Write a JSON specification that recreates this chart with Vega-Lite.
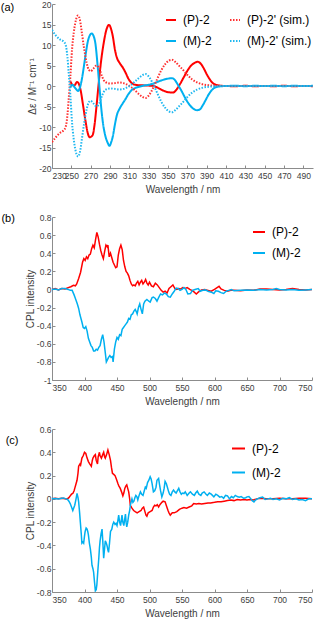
{
"$schema": "https://vega.github.io/schema/vega-lite/v6.json",
"background": "white",
"padding": {"left": 0, "top": 0, "right": 4, "bottom": 0},
"spacing": 18,
"resolve": {"scale": {"color": "independent", "strokeDash": "independent", "strokeWidth": "independent"}, "legend": {"color": "independent", "strokeDash": "independent", "strokeWidth": "independent"}},
"config": {
  "view": {"stroke": null},
  "font": "Liberation Sans",
  "axis": {"grid": false, "labelFont": "Liberation Sans", "labelFontSize": 8.5, "labelColor": "#404040", "labelOverlap": false, "titleFont": "Liberation Sans", "titleFontSize": 10, "titleFontWeight": "normal", "titleColor": "#404040", "domainColor": "#8c8c8c", "tickColor": "#8c8c8c", "tickSize": -3, "labelPadding": 4},
  "axisX": {"titlePadding": 5, "labelPadding": 6},
  "axisY": {"titlePadding": 1},
  "legend": {"labelFont": "Liberation Sans", "labelFontSize": 12, "labelColor": "#000000", "padding": 0, "labelOffset": 6, "symbolType": "stroke"},
  "title": {"font": "Liberation Sans", "fontSize": 11, "fontWeight": "normal", "color": "#000000", "frame": "group"}
},
"datasets": {
  "cd": [
    {"series":"(P)-2","wl":249,"val":1.2},{"series":"(P)-2","wl":251,"val":0.3},{"series":"(P)-2","wl":253,"val":0.1},{"series":"(P)-2","wl":256,"val":1.0},{"series":"(P)-2","wl":258,"val":0.4},{"series":"(P)-2","wl":260,"val":-1.5},{"series":"(P)-2","wl":262,"val":-4.5},{"series":"(P)-2","wl":264.5,"val":-8.3},{"series":"(P)-2","wl":267,"val":-11.5},{"series":"(P)-2","wl":269,"val":-12.5},{"series":"(P)-2","wl":272,"val":-12},{"series":"(P)-2","wl":274,"val":-9.5},{"series":"(P)-2","wl":276,"val":-5},{"series":"(P)-2","wl":279,"val":2.3},{"series":"(P)-2","wl":281,"val":6.5},{"series":"(P)-2","wl":283.5,"val":10.5},{"series":"(P)-2","wl":286,"val":13.5},{"series":"(P)-2","wl":289,"val":14.9},{"series":"(P)-2","wl":291,"val":14},{"series":"(P)-2","wl":293,"val":12},{"series":"(P)-2","wl":295,"val":9},{"series":"(P)-2","wl":297,"val":7},{"series":"(P)-2","wl":300,"val":5.6},{"series":"(P)-2","wl":303,"val":4.6},{"series":"(P)-2","wl":306,"val":3.3},{"series":"(P)-2","wl":309,"val":1.8},{"series":"(P)-2","wl":312,"val":0.8},{"series":"(P)-2","wl":316,"val":0.3},{"series":"(P)-2","wl":320,"val":0.2},{"series":"(P)-2","wl":325,"val":0.15},{"series":"(P)-2","wl":330,"val":0.1},{"series":"(P)-2","wl":335,"val":0},{"series":"(P)-2","wl":340,"val":-0.5},{"series":"(P)-2","wl":345,"val":-1.1},{"series":"(P)-2","wl":350,"val":-1.5},{"series":"(P)-2","wl":355,"val":-1.6},{"series":"(P)-2","wl":358,"val":-1.1},{"series":"(P)-2","wl":362,"val":0.3},{"series":"(P)-2","wl":366,"val":2.0},{"series":"(P)-2","wl":370,"val":3.7},{"series":"(P)-2","wl":374,"val":5.0},{"series":"(P)-2","wl":378,"val":5.7},{"series":"(P)-2","wl":381,"val":5.9},{"series":"(P)-2","wl":384,"val":5.4},{"series":"(P)-2","wl":387,"val":4.3},{"series":"(P)-2","wl":390,"val":2.9},{"series":"(P)-2","wl":393,"val":1.7},{"series":"(P)-2","wl":396,"val":0.8},{"series":"(P)-2","wl":399,"val":0.35},{"series":"(P)-2","wl":402,"val":0.15},{"series":"(P)-2","wl":406,"val":0.05},{"series":"(P)-2","wl":410,"val":0},{"series":"(P)-2","wl":420,"val":-0.05},{"series":"(P)-2","wl":430,"val":0.05},{"series":"(P)-2","wl":440,"val":-0.05},{"series":"(P)-2","wl":450,"val":0},{"series":"(P)-2","wl":460,"val":-0.05},{"series":"(P)-2","wl":470,"val":0.05},{"series":"(P)-2","wl":480,"val":-0.05},{"series":"(P)-2","wl":490,"val":0},{"series":"(P)-2","wl":500,"val":-0.05},
    {"series":"(M)-2","wl":249,"val":-0.4},{"series":"(M)-2","wl":251,"val":0.3},{"series":"(M)-2","wl":254,"val":-0.5},{"series":"(M)-2","wl":257,"val":-1.2},{"series":"(M)-2","wl":259,"val":-0.3},{"series":"(M)-2","wl":261,"val":1.8},{"series":"(M)-2","wl":263,"val":4.8},{"series":"(M)-2","wl":265,"val":8},{"series":"(M)-2","wl":267,"val":10.8},{"series":"(M)-2","wl":269,"val":12.3},{"series":"(M)-2","wl":271,"val":12.8},{"series":"(M)-2","wl":273,"val":12.2},{"series":"(M)-2","wl":275,"val":10.2},{"series":"(M)-2","wl":277,"val":5.5},{"series":"(M)-2","wl":279,"val":0},{"series":"(M)-2","wl":281,"val":-5.5},{"series":"(M)-2","wl":283,"val":-9.5},{"series":"(M)-2","wl":285,"val":-12},{"series":"(M)-2","wl":287.5,"val":-13.8},{"series":"(M)-2","wl":289.5,"val":-14.6},{"series":"(M)-2","wl":291.5,"val":-13.5},{"series":"(M)-2","wl":293,"val":-12.2},{"series":"(M)-2","wl":295,"val":-9.5},{"series":"(M)-2","wl":297,"val":-7.2},{"series":"(M)-2","wl":300,"val":-5.5},{"series":"(M)-2","wl":303,"val":-4.3},{"series":"(M)-2","wl":306,"val":-3.2},{"series":"(M)-2","wl":309,"val":-2.0},{"series":"(M)-2","wl":312,"val":-1.1},{"series":"(M)-2","wl":316,"val":-0.5},{"series":"(M)-2","wl":320,"val":-0.2},{"series":"(M)-2","wl":325,"val":0.1},{"series":"(M)-2","wl":330,"val":0.3},{"series":"(M)-2","wl":335,"val":0.6},{"series":"(M)-2","wl":340,"val":1.1},{"series":"(M)-2","wl":345,"val":1.5},{"series":"(M)-2","wl":350,"val":1.8},{"series":"(M)-2","wl":354,"val":1.9},{"series":"(M)-2","wl":357,"val":1.5},{"series":"(M)-2","wl":360,"val":0.4},{"series":"(M)-2","wl":364,"val":-1.2},{"series":"(M)-2","wl":368,"val":-3.0},{"series":"(M)-2","wl":372,"val":-4.5},{"series":"(M)-2","wl":376,"val":-5.5},{"series":"(M)-2","wl":380,"val":-5.9},{"series":"(M)-2","wl":383,"val":-5.7},{"series":"(M)-2","wl":386,"val":-4.7},{"series":"(M)-2","wl":389,"val":-3.4},{"series":"(M)-2","wl":392,"val":-2.1},{"series":"(M)-2","wl":395,"val":-1.1},{"series":"(M)-2","wl":398,"val":-0.45},{"series":"(M)-2","wl":402,"val":-0.15},{"series":"(M)-2","wl":406,"val":-0.05},{"series":"(M)-2","wl":410,"val":0},{"series":"(M)-2","wl":420,"val":0.05},{"series":"(M)-2","wl":430,"val":-0.05},{"series":"(M)-2","wl":440,"val":0.05},{"series":"(M)-2","wl":450,"val":0},{"series":"(M)-2","wl":460,"val":0.05},{"series":"(M)-2","wl":470,"val":-0.05},{"series":"(M)-2","wl":480,"val":0.05},{"series":"(M)-2","wl":490,"val":0},{"series":"(M)-2","wl":500,"val":0.05},
    {"series":"(P)-2' (sim.)","wl":230,"val":-13.7},{"series":"(P)-2' (sim.)","wl":234,"val":-12.5},{"series":"(P)-2' (sim.)","wl":238,"val":-11.5},{"series":"(P)-2' (sim.)","wl":242,"val":-10.8},{"series":"(P)-2' (sim.)","wl":244,"val":-10.1},{"series":"(P)-2' (sim.)","wl":246,"val":-7},{"series":"(P)-2' (sim.)","wl":247.2,"val":-3.4},{"series":"(P)-2' (sim.)","wl":249,"val":2.3},{"series":"(P)-2' (sim.)","wl":250.7,"val":8.8},{"series":"(P)-2' (sim.)","wl":252.5,"val":13},{"series":"(P)-2' (sim.)","wl":254,"val":15.3},{"series":"(P)-2' (sim.)","wl":257,"val":17.2},{"series":"(P)-2' (sim.)","wl":259,"val":16},{"series":"(P)-2' (sim.)","wl":261,"val":12.8},{"series":"(P)-2' (sim.)","wl":263,"val":9.5},{"series":"(P)-2' (sim.)","wl":266,"val":5.5},{"series":"(P)-2' (sim.)","wl":268,"val":4},{"series":"(P)-2' (sim.)","wl":270,"val":3.6},{"series":"(P)-2' (sim.)","wl":273,"val":4.3},{"series":"(P)-2' (sim.)","wl":276,"val":5},{"series":"(P)-2' (sim.)","wl":279,"val":4.2},{"series":"(P)-2' (sim.)","wl":282,"val":2.2},{"series":"(P)-2' (sim.)","wl":285,"val":1},{"series":"(P)-2' (sim.)","wl":290,"val":0.6},{"series":"(P)-2' (sim.)","wl":295,"val":0.7},{"series":"(P)-2' (sim.)","wl":300,"val":0.85},{"series":"(P)-2' (sim.)","wl":304,"val":0.7},{"series":"(P)-2' (sim.)","wl":308,"val":0.3},{"series":"(P)-2' (sim.)","wl":312,"val":-0.3},{"series":"(P)-2' (sim.)","wl":316,"val":-1.1},{"series":"(P)-2' (sim.)","wl":320,"val":-2.0},{"series":"(P)-2' (sim.)","wl":324,"val":-2.7},{"series":"(P)-2' (sim.)","wl":327,"val":-2.9},{"series":"(P)-2' (sim.)","wl":331,"val":-2.0},{"series":"(P)-2' (sim.)","wl":335,"val":-0.3},{"series":"(P)-2' (sim.)","wl":339,"val":1.8},{"series":"(P)-2' (sim.)","wl":343,"val":3.8},{"series":"(P)-2' (sim.)","wl":347,"val":5.3},{"series":"(P)-2' (sim.)","wl":351,"val":6.2},{"series":"(P)-2' (sim.)","wl":354,"val":6.4},{"series":"(P)-2' (sim.)","wl":358,"val":5.8},{"series":"(P)-2' (sim.)","wl":362,"val":4.8},{"series":"(P)-2' (sim.)","wl":366,"val":3.8},{"series":"(P)-2' (sim.)","wl":370,"val":2.7},{"series":"(P)-2' (sim.)","wl":375,"val":1.6},{"series":"(P)-2' (sim.)","wl":380,"val":0.9},{"series":"(P)-2' (sim.)","wl":386,"val":0.4},{"series":"(P)-2' (sim.)","wl":392,"val":0.2},{"series":"(P)-2' (sim.)","wl":400,"val":0.05},{"series":"(P)-2' (sim.)","wl":410,"val":0},{"series":"(P)-2' (sim.)","wl":500,"val":0},
    {"series":"(M)-2' (sim.)","wl":230,"val":13.7},{"series":"(M)-2' (sim.)","wl":234,"val":12.3},{"series":"(M)-2' (sim.)","wl":238,"val":11.4},{"series":"(M)-2' (sim.)","wl":242,"val":10.8},{"series":"(M)-2' (sim.)","wl":244,"val":10.1},{"series":"(M)-2' (sim.)","wl":246,"val":7},{"series":"(M)-2' (sim.)","wl":247.2,"val":3.4},{"series":"(M)-2' (sim.)","wl":249,"val":-2.3},{"series":"(M)-2' (sim.)","wl":250.7,"val":-8.8},{"series":"(M)-2' (sim.)","wl":252.5,"val":-13},{"series":"(M)-2' (sim.)","wl":254,"val":-15.3},{"series":"(M)-2' (sim.)","wl":257,"val":-17.2},{"series":"(M)-2' (sim.)","wl":259,"val":-16},{"series":"(M)-2' (sim.)","wl":261,"val":-12.8},{"series":"(M)-2' (sim.)","wl":263,"val":-9.5},{"series":"(M)-2' (sim.)","wl":266,"val":-5.5},{"series":"(M)-2' (sim.)","wl":268,"val":-4},{"series":"(M)-2' (sim.)","wl":270,"val":-3.6},{"series":"(M)-2' (sim.)","wl":273,"val":-4.3},{"series":"(M)-2' (sim.)","wl":276,"val":-5},{"series":"(M)-2' (sim.)","wl":279,"val":-4.2},{"series":"(M)-2' (sim.)","wl":282,"val":-2.2},{"series":"(M)-2' (sim.)","wl":285,"val":-1},{"series":"(M)-2' (sim.)","wl":290,"val":-0.6},{"series":"(M)-2' (sim.)","wl":295,"val":-0.7},{"series":"(M)-2' (sim.)","wl":300,"val":-0.85},{"series":"(M)-2' (sim.)","wl":304,"val":-0.7},{"series":"(M)-2' (sim.)","wl":308,"val":-0.3},{"series":"(M)-2' (sim.)","wl":312,"val":0.3},{"series":"(M)-2' (sim.)","wl":316,"val":1.1},{"series":"(M)-2' (sim.)","wl":320,"val":2.0},{"series":"(M)-2' (sim.)","wl":324,"val":2.7},{"series":"(M)-2' (sim.)","wl":327,"val":2.9},{"series":"(M)-2' (sim.)","wl":331,"val":2.0},{"series":"(M)-2' (sim.)","wl":335,"val":0.3},{"series":"(M)-2' (sim.)","wl":339,"val":-1.8},{"series":"(M)-2' (sim.)","wl":343,"val":-3.8},{"series":"(M)-2' (sim.)","wl":347,"val":-5.3},{"series":"(M)-2' (sim.)","wl":351,"val":-6.2},{"series":"(M)-2' (sim.)","wl":354,"val":-6.4},{"series":"(M)-2' (sim.)","wl":358,"val":-5.8},{"series":"(M)-2' (sim.)","wl":362,"val":-4.8},{"series":"(M)-2' (sim.)","wl":366,"val":-3.8},{"series":"(M)-2' (sim.)","wl":370,"val":-2.7},{"series":"(M)-2' (sim.)","wl":375,"val":-1.6},{"series":"(M)-2' (sim.)","wl":380,"val":-0.9},{"series":"(M)-2' (sim.)","wl":386,"val":-0.4},{"series":"(M)-2' (sim.)","wl":392,"val":-0.2},{"series":"(M)-2' (sim.)","wl":400,"val":-0.05},{"series":"(M)-2' (sim.)","wl":410,"val":0},{"series":"(M)-2' (sim.)","wl":500,"val":0}
  ],
  "cplb": [
    {"series":"(P)-2","wl":350,"val":0},{"series":"(P)-2","wl":355,"val":0.01},{"series":"(P)-2","wl":360,"val":-0.005},{"series":"(P)-2","wl":365,"val":0.01},{"series":"(P)-2","wl":370,"val":0.005},{"series":"(P)-2","wl":375,"val":0.02},{"series":"(P)-2","wl":379,"val":0.03},{"series":"(P)-2","wl":383,"val":0.045},{"series":"(P)-2","wl":386,"val":0.04},{"series":"(P)-2","wl":388,"val":0.06},{"series":"(P)-2","wl":391,"val":0.12},{"series":"(P)-2","wl":394,"val":0.19},{"series":"(P)-2","wl":397,"val":0.3},{"series":"(P)-2","wl":399,"val":0.34},{"series":"(P)-2","wl":401,"val":0.32},{"series":"(P)-2","wl":403,"val":0.36},{"series":"(P)-2","wl":405,"val":0.34},{"series":"(P)-2","wl":407,"val":0.38},{"series":"(P)-2","wl":409,"val":0.39},{"series":"(P)-2","wl":411,"val":0.45},{"series":"(P)-2","wl":413,"val":0.49},{"series":"(P)-2","wl":415,"val":0.46},{"series":"(P)-2","wl":417,"val":0.55},{"series":"(P)-2","wl":419,"val":0.63},{"series":"(P)-2","wl":421,"val":0.58},{"series":"(P)-2","wl":423,"val":0.5},{"series":"(P)-2","wl":425,"val":0.43},{"series":"(P)-2","wl":427,"val":0.38},{"series":"(P)-2","wl":429,"val":0.34},{"series":"(P)-2","wl":431,"val":0.42},{"series":"(P)-2","wl":433,"val":0.49},{"series":"(P)-2","wl":435,"val":0.47},{"series":"(P)-2","wl":436,"val":0.49},{"series":"(P)-2","wl":438,"val":0.36},{"series":"(P)-2","wl":440,"val":0.4},{"series":"(P)-2","wl":442,"val":0.35},{"series":"(P)-2","wl":444,"val":0.3},{"series":"(P)-2","wl":446,"val":0.27},{"series":"(P)-2","wl":448,"val":0.24},{"series":"(P)-2","wl":450,"val":0.25},{"series":"(P)-2","wl":452,"val":0.38},{"series":"(P)-2","wl":454,"val":0.45},{"series":"(P)-2","wl":456,"val":0.49},{"series":"(P)-2","wl":458,"val":0.44},{"series":"(P)-2","wl":460,"val":0.32},{"series":"(P)-2","wl":462,"val":0.25},{"series":"(P)-2","wl":464,"val":0.2},{"series":"(P)-2","wl":466,"val":0.18},{"series":"(P)-2","wl":468,"val":0.15},{"series":"(P)-2","wl":470,"val":0.1},{"series":"(P)-2","wl":472,"val":0.06},{"series":"(P)-2","wl":474,"val":0.04},{"series":"(P)-2","wl":476,"val":0.05},{"series":"(P)-2","wl":478,"val":0.04},{"series":"(P)-2","wl":480,"val":0.07},{"series":"(P)-2","wl":482,"val":0.09},{"series":"(P)-2","wl":484,"val":0.05},{"series":"(P)-2","wl":486,"val":0.08},{"series":"(P)-2","wl":488,"val":0.1},{"series":"(P)-2","wl":490,"val":0.06},{"series":"(P)-2","wl":492,"val":0.08},{"series":"(P)-2","wl":494,"val":0.11},{"series":"(P)-2","wl":496,"val":0.07},{"series":"(P)-2","wl":498,"val":0.05},{"series":"(P)-2","wl":500,"val":0.08},{"series":"(P)-2","wl":503,"val":0.04},{"series":"(P)-2","wl":506,"val":0.03},{"series":"(P)-2","wl":509,"val":0.07},{"series":"(P)-2","wl":512,"val":0.05},{"series":"(P)-2","wl":515,"val":0.02},{"series":"(P)-2","wl":518,"val":-0.01},{"series":"(P)-2","wl":521,"val":-0.03},{"series":"(P)-2","wl":524,"val":-0.02},{"series":"(P)-2","wl":527,"val":-0.04},{"series":"(P)-2","wl":530,"val":0.01},{"series":"(P)-2","wl":533,"val":0.03},{"series":"(P)-2","wl":536,"val":0.05},{"series":"(P)-2","wl":539,"val":0.01},{"series":"(P)-2","wl":542,"val":0.0},{"series":"(P)-2","wl":545,"val":0.01},{"series":"(P)-2","wl":548,"val":0.005},{"series":"(P)-2","wl":551,"val":0.02},{"series":"(P)-2","wl":555,"val":0.01},{"series":"(P)-2","wl":558,"val":0.02},{"series":"(P)-2","wl":562,"val":0.0},{"series":"(P)-2","wl":565,"val":-0.01},{"series":"(P)-2","wl":568,"val":-0.025},{"series":"(P)-2","wl":572,"val":-0.05},{"series":"(P)-2","wl":575,"val":-0.03},{"series":"(P)-2","wl":580,"val":-0.005},{"series":"(P)-2","wl":585,"val":0.0},{"series":"(P)-2","wl":590,"val":-0.01},{"series":"(P)-2","wl":595,"val":-0.02},{"series":"(P)-2","wl":600,"val":0.0},{"series":"(P)-2","wl":604,"val":0.02},{"series":"(P)-2","wl":607,"val":0.035},{"series":"(P)-2","wl":610,"val":0.005},{"series":"(P)-2","wl":615,"val":-0.01},{"series":"(P)-2","wl":620,"val":-0.02},{"series":"(P)-2","wl":625,"val":-0.01},{"series":"(P)-2","wl":630,"val":-0.01},{"series":"(P)-2","wl":640,"val":-0.015},{"series":"(P)-2","wl":650,"val":-0.005},{"series":"(P)-2","wl":660,"val":-0.01},{"series":"(P)-2","wl":670,"val":0.005},{"series":"(P)-2","wl":680,"val":0.005},{"series":"(P)-2","wl":690,"val":0.0},{"series":"(P)-2","wl":700,"val":-0.005},{"series":"(P)-2","wl":710,"val":0.0},{"series":"(P)-2","wl":720,"val":0.01},{"series":"(P)-2","wl":730,"val":0.0},{"series":"(P)-2","wl":740,"val":-0.005},{"series":"(P)-2","wl":750,"val":0.0},
    {"series":"(M)-2","wl":350,"val":0},{"series":"(M)-2","wl":355,"val":0.005},{"series":"(M)-2","wl":360,"val":-0.005},{"series":"(M)-2","wl":365,"val":0.01},{"series":"(M)-2","wl":370,"val":0.01},{"series":"(M)-2","wl":375,"val":0.0},{"series":"(M)-2","wl":378,"val":-0.01},{"series":"(M)-2","wl":381,"val":-0.01},{"series":"(M)-2","wl":384,"val":-0.06},{"series":"(M)-2","wl":386,"val":-0.1},{"series":"(M)-2","wl":389,"val":-0.16},{"series":"(M)-2","wl":391,"val":-0.21},{"series":"(M)-2","wl":393,"val":-0.28},{"series":"(M)-2","wl":396,"val":-0.36},{"series":"(M)-2","wl":398,"val":-0.42},{"series":"(M)-2","wl":400,"val":-0.43},{"series":"(M)-2","wl":402,"val":-0.41},{"series":"(M)-2","wl":404,"val":-0.46},{"series":"(M)-2","wl":406,"val":-0.54},{"series":"(M)-2","wl":408,"val":-0.58},{"series":"(M)-2","wl":410,"val":-0.62},{"series":"(M)-2","wl":412,"val":-0.64},{"series":"(M)-2","wl":414,"val":-0.68},{"series":"(M)-2","wl":416,"val":-0.68},{"series":"(M)-2","wl":418,"val":-0.66},{"series":"(M)-2","wl":420,"val":-0.67},{"series":"(M)-2","wl":422,"val":-0.64},{"series":"(M)-2","wl":424,"val":-0.62},{"series":"(M)-2","wl":426,"val":-0.55},{"series":"(M)-2","wl":428,"val":-0.5},{"series":"(M)-2","wl":430,"val":-0.58},{"series":"(M)-2","wl":432,"val":-0.7},{"series":"(M)-2","wl":433.6,"val":-0.8},{"series":"(M)-2","wl":435,"val":-0.78},{"series":"(M)-2","wl":437,"val":-0.75},{"series":"(M)-2","wl":439,"val":-0.73},{"series":"(M)-2","wl":441,"val":-0.75},{"series":"(M)-2","wl":443,"val":-0.74},{"series":"(M)-2","wl":444,"val":-0.8},{"series":"(M)-2","wl":446,"val":-0.66},{"series":"(M)-2","wl":448,"val":-0.58},{"series":"(M)-2","wl":450,"val":-0.53},{"series":"(M)-2","wl":452,"val":-0.55},{"series":"(M)-2","wl":454,"val":-0.5},{"series":"(M)-2","wl":456,"val":-0.51},{"series":"(M)-2","wl":458,"val":-0.44},{"series":"(M)-2","wl":460,"val":-0.42},{"series":"(M)-2","wl":462,"val":-0.4},{"series":"(M)-2","wl":464,"val":-0.38},{"series":"(M)-2","wl":466,"val":-0.36},{"series":"(M)-2","wl":468,"val":-0.32},{"series":"(M)-2","wl":470,"val":-0.33},{"series":"(M)-2","wl":472,"val":-0.28},{"series":"(M)-2","wl":474,"val":-0.27},{"series":"(M)-2","wl":476,"val":-0.24},{"series":"(M)-2","wl":478,"val":-0.22},{"series":"(M)-2","wl":480,"val":-0.25},{"series":"(M)-2","wl":481,"val":-0.27},{"series":"(M)-2","wl":483,"val":-0.2},{"series":"(M)-2","wl":485,"val":-0.16},{"series":"(M)-2","wl":487,"val":-0.22},{"series":"(M)-2","wl":489,"val":-0.27},{"series":"(M)-2","wl":491,"val":-0.16},{"series":"(M)-2","wl":493,"val":-0.13},{"series":"(M)-2","wl":496,"val":-0.11},{"series":"(M)-2","wl":499,"val":-0.13},{"series":"(M)-2","wl":501,"val":-0.14},{"series":"(M)-2","wl":504,"val":-0.09},{"series":"(M)-2","wl":506,"val":-0.085},{"series":"(M)-2","wl":509,"val":-0.1},{"series":"(M)-2","wl":511.5,"val":-0.13},{"series":"(M)-2","wl":514,"val":-0.09},{"series":"(M)-2","wl":517,"val":-0.05},{"series":"(M)-2","wl":520,"val":-0.06},{"series":"(M)-2","wl":523,"val":-0.04},{"series":"(M)-2","wl":526,"val":-0.05},{"series":"(M)-2","wl":529,"val":-0.08},{"series":"(M)-2","wl":532,"val":-0.085},{"series":"(M)-2","wl":535,"val":-0.05},{"series":"(M)-2","wl":538,"val":-0.02},{"series":"(M)-2","wl":541,"val":0.015},{"series":"(M)-2","wl":544,"val":0.01},{"series":"(M)-2","wl":547,"val":-0.01},{"series":"(M)-2","wl":550,"val":0.0},{"series":"(M)-2","wl":553,"val":0.02},{"series":"(M)-2","wl":556,"val":0.0},{"series":"(M)-2","wl":559,"val":-0.05},{"series":"(M)-2","wl":563,"val":-0.045},{"series":"(M)-2","wl":566,"val":-0.01},{"series":"(M)-2","wl":570,"val":0.0},{"series":"(M)-2","wl":575,"val":0.01},{"series":"(M)-2","wl":578,"val":-0.02},{"series":"(M)-2","wl":582,"val":-0.01},{"series":"(M)-2","wl":586,"val":-0.005},{"series":"(M)-2","wl":590,"val":-0.02},{"series":"(M)-2","wl":595,"val":-0.03},{"series":"(M)-2","wl":599,"val":-0.045},{"series":"(M)-2","wl":602,"val":-0.015},{"series":"(M)-2","wl":606,"val":-0.02},{"series":"(M)-2","wl":610,"val":-0.035},{"series":"(M)-2","wl":614,"val":-0.045},{"series":"(M)-2","wl":618,"val":-0.02},{"series":"(M)-2","wl":622,"val":-0.01},{"series":"(M)-2","wl":626,"val":0.0},{"series":"(M)-2","wl":630,"val":-0.015},{"series":"(M)-2","wl":640,"val":-0.01},{"series":"(M)-2","wl":650,"val":-0.005},{"series":"(M)-2","wl":660,"val":-0.01},{"series":"(M)-2","wl":670,"val":0.0},{"series":"(M)-2","wl":680,"val":-0.005},{"series":"(M)-2","wl":690,"val":0.0},{"series":"(M)-2","wl":695,"val":0.01},{"series":"(M)-2","wl":700,"val":0.0},{"series":"(M)-2","wl":710,"val":-0.005},{"series":"(M)-2","wl":720,"val":0.0},{"series":"(M)-2","wl":730,"val":-0.01},{"series":"(M)-2","wl":740,"val":-0.005},{"series":"(M)-2","wl":750,"val":0.0}
  ],
  "cplc": [
    {"series":"(P)-2","wl":350,"val":0},{"series":"(P)-2","wl":355,"val":0.005},{"series":"(P)-2","wl":360,"val":0.0},{"series":"(P)-2","wl":365,"val":0.005},{"series":"(P)-2","wl":370,"val":0.0},{"series":"(P)-2","wl":373,"val":-0.003},{"series":"(P)-2","wl":376,"val":0.01},{"series":"(P)-2","wl":378,"val":0.026},{"series":"(P)-2","wl":380,"val":0.04},{"series":"(P)-2","wl":382,"val":0.046},{"series":"(P)-2","wl":384,"val":0.07},{"series":"(P)-2","wl":385,"val":0.09},{"series":"(P)-2","wl":387,"val":0.13},{"series":"(P)-2","wl":388.5,"val":0.16},{"series":"(P)-2","wl":390,"val":0.22},{"series":"(P)-2","wl":391,"val":0.28},{"series":"(P)-2","wl":393,"val":0.3},{"series":"(P)-2","wl":394,"val":0.29},{"series":"(P)-2","wl":396,"val":0.35},{"series":"(P)-2","wl":398,"val":0.37},{"series":"(P)-2","wl":400,"val":0.4},{"series":"(P)-2","wl":402,"val":0.39},{"series":"(P)-2","wl":404,"val":0.35},{"series":"(P)-2","wl":406,"val":0.32},{"series":"(P)-2","wl":408,"val":0.3},{"series":"(P)-2","wl":410.5,"val":0.28},{"series":"(P)-2","wl":412,"val":0.33},{"series":"(P)-2","wl":413,"val":0.35},{"series":"(P)-2","wl":415,"val":0.37},{"series":"(P)-2","wl":416.7,"val":0.38},{"series":"(P)-2","wl":418,"val":0.33},{"series":"(P)-2","wl":420,"val":0.3},{"series":"(P)-2","wl":421,"val":0.36},{"series":"(P)-2","wl":423,"val":0.4},{"series":"(P)-2","wl":424,"val":0.37},{"series":"(P)-2","wl":426,"val":0.35},{"series":"(P)-2","wl":428,"val":0.38},{"series":"(P)-2","wl":429.5,"val":0.4},{"series":"(P)-2","wl":431,"val":0.36},{"series":"(P)-2","wl":432,"val":0.35},{"series":"(P)-2","wl":434,"val":0.38},{"series":"(P)-2","wl":436,"val":0.42},{"series":"(P)-2","wl":438,"val":0.38},{"series":"(P)-2","wl":440,"val":0.33},{"series":"(P)-2","wl":441.5,"val":0.27},{"series":"(P)-2","wl":443,"val":0.22},{"series":"(P)-2","wl":445,"val":0.21},{"series":"(P)-2","wl":447,"val":0.2},{"series":"(P)-2","wl":449,"val":0.17},{"series":"(P)-2","wl":451.5,"val":0.13},{"series":"(P)-2","wl":453,"val":0.11},{"series":"(P)-2","wl":455,"val":0.09},{"series":"(P)-2","wl":457,"val":0.06},{"series":"(P)-2","wl":459,"val":0.026},{"series":"(P)-2","wl":460.5,"val":0.05},{"series":"(P)-2","wl":462,"val":0.09},{"series":"(P)-2","wl":463.5,"val":0.11},{"series":"(P)-2","wl":465,"val":0.12},{"series":"(P)-2","wl":466.5,"val":0.09},{"series":"(P)-2","wl":468,"val":0.06},{"series":"(P)-2","wl":469.5,"val":0.0},{"series":"(P)-2","wl":470.5,"val":-0.055},{"series":"(P)-2","wl":473,"val":-0.08},{"series":"(P)-2","wl":475.6,"val":-0.1},{"series":"(P)-2","wl":478,"val":-0.11},{"series":"(P)-2","wl":481,"val":-0.12},{"series":"(P)-2","wl":484,"val":-0.11},{"series":"(P)-2","wl":487,"val":-0.1},{"series":"(P)-2","wl":489,"val":-0.08},{"series":"(P)-2","wl":491,"val":-0.07},{"series":"(P)-2","wl":493,"val":-0.11},{"series":"(P)-2","wl":494.6,"val":-0.14},{"series":"(P)-2","wl":496,"val":-0.15},{"series":"(P)-2","wl":498,"val":-0.12},{"series":"(P)-2","wl":501,"val":-0.11},{"series":"(P)-2","wl":504,"val":-0.1},{"series":"(P)-2","wl":506,"val":-0.07},{"series":"(P)-2","wl":508,"val":-0.055},{"series":"(P)-2","wl":510,"val":-0.06},{"series":"(P)-2","wl":512,"val":-0.05},{"series":"(P)-2","wl":514,"val":-0.07},{"series":"(P)-2","wl":516,"val":-0.05},{"series":"(P)-2","wl":519,"val":-0.03},{"series":"(P)-2","wl":521,"val":-0.02},{"series":"(P)-2","wl":524,"val":-0.026},{"series":"(P)-2","wl":526,"val":-0.06},{"series":"(P)-2","wl":528.5,"val":-0.1},{"series":"(P)-2","wl":530,"val":-0.12},{"series":"(P)-2","wl":532,"val":-0.14},{"series":"(P)-2","wl":535,"val":-0.12},{"series":"(P)-2","wl":538,"val":-0.12},{"series":"(P)-2","wl":542,"val":-0.11},{"series":"(P)-2","wl":546,"val":-0.09},{"series":"(P)-2","wl":550,"val":-0.08},{"series":"(P)-2","wl":553,"val":-0.075},{"series":"(P)-2","wl":557,"val":-0.08},{"series":"(P)-2","wl":561,"val":-0.07},{"series":"(P)-2","wl":565,"val":-0.06},{"series":"(P)-2","wl":568,"val":-0.04},{"series":"(P)-2","wl":572,"val":-0.045},{"series":"(P)-2","wl":576,"val":-0.04},{"series":"(P)-2","wl":580,"val":-0.045},{"series":"(P)-2","wl":585,"val":-0.04},{"series":"(P)-2","wl":590,"val":-0.035},{"series":"(P)-2","wl":594,"val":-0.035},{"series":"(P)-2","wl":600,"val":-0.03},{"series":"(P)-2","wl":605,"val":-0.025},{"series":"(P)-2","wl":610,"val":-0.025},{"series":"(P)-2","wl":615,"val":-0.02},{"series":"(P)-2","wl":620,"val":-0.015},{"series":"(P)-2","wl":625,"val":-0.01},{"series":"(P)-2","wl":630,"val":-0.015},{"series":"(P)-2","wl":635,"val":-0.005},{"series":"(P)-2","wl":640,"val":-0.01},{"series":"(P)-2","wl":645,"val":-0.005},{"series":"(P)-2","wl":650,"val":-0.01},{"series":"(P)-2","wl":655,"val":-0.005},{"series":"(P)-2","wl":660,"val":-0.01},{"series":"(P)-2","wl":665,"val":0.0},{"series":"(P)-2","wl":670,"val":0.005},{"series":"(P)-2","wl":680,"val":0.0},{"series":"(P)-2","wl":690,"val":0.0},{"series":"(P)-2","wl":700,"val":0.005},{"series":"(P)-2","wl":710,"val":0.0},{"series":"(P)-2","wl":720,"val":0.0},{"series":"(P)-2","wl":730,"val":0.005},{"series":"(P)-2","wl":740,"val":0.005},{"series":"(P)-2","wl":750,"val":0.0},
    {"series":"(M)-2","wl":350,"val":0},{"series":"(M)-2","wl":355,"val":0.003},{"series":"(M)-2","wl":360,"val":-0.002},{"series":"(M)-2","wl":365,"val":0.005},{"series":"(M)-2","wl":368,"val":0.008},{"series":"(M)-2","wl":371,"val":0.0},{"series":"(M)-2","wl":374,"val":-0.005},{"series":"(M)-2","wl":376,"val":-0.02},{"series":"(M)-2","wl":378,"val":-0.04},{"series":"(M)-2","wl":380,"val":-0.07},{"series":"(M)-2","wl":382,"val":-0.1},{"series":"(M)-2","wl":384,"val":-0.07},{"series":"(M)-2","wl":385,"val":-0.055},{"series":"(M)-2","wl":387,"val":0.0},{"series":"(M)-2","wl":388.5,"val":0.046},{"series":"(M)-2","wl":390,"val":0.01},{"series":"(M)-2","wl":391,"val":-0.026},{"series":"(M)-2","wl":392.5,"val":-0.12},{"series":"(M)-2","wl":393.6,"val":-0.2},{"series":"(M)-2","wl":395,"val":-0.3},{"series":"(M)-2","wl":396,"val":-0.38},{"series":"(M)-2","wl":397.5,"val":-0.37},{"series":"(M)-2","wl":398.7,"val":-0.38},{"series":"(M)-2","wl":400,"val":-0.32},{"series":"(M)-2","wl":401,"val":-0.28},{"series":"(M)-2","wl":402.5,"val":-0.25},{"series":"(M)-2","wl":404,"val":-0.26},{"series":"(M)-2","wl":405,"val":-0.28},{"series":"(M)-2","wl":406,"val":-0.31},{"series":"(M)-2","wl":407.5,"val":-0.38},{"series":"(M)-2","wl":409,"val":-0.43},{"series":"(M)-2","wl":410.5,"val":-0.5},{"series":"(M)-2","wl":411.5,"val":-0.57},{"series":"(M)-2","wl":413,"val":-0.6},{"series":"(M)-2","wl":414,"val":-0.63},{"series":"(M)-2","wl":415.5,"val":-0.72},{"series":"(M)-2","wl":416.7,"val":-0.79},{"series":"(M)-2","wl":418,"val":-0.78},{"series":"(M)-2","wl":419,"val":-0.74},{"series":"(M)-2","wl":420.5,"val":-0.62},{"series":"(M)-2","wl":422,"val":-0.51},{"series":"(M)-2","wl":423,"val":-0.42},{"series":"(M)-2","wl":424,"val":-0.36},{"series":"(M)-2","wl":425.5,"val":-0.3},{"series":"(M)-2","wl":427,"val":-0.26},{"series":"(M)-2","wl":428,"val":-0.35},{"series":"(M)-2","wl":429.5,"val":-0.51},{"series":"(M)-2","wl":431,"val":-0.42},{"series":"(M)-2","wl":432,"val":-0.36},{"series":"(M)-2","wl":433.5,"val":-0.38},{"series":"(M)-2","wl":434.6,"val":-0.4},{"series":"(M)-2","wl":436,"val":-0.44},{"series":"(M)-2","wl":437,"val":-0.46},{"series":"(M)-2","wl":438.5,"val":-0.38},{"series":"(M)-2","wl":440,"val":-0.28},{"series":"(M)-2","wl":441,"val":-0.27},{"series":"(M)-2","wl":442,"val":-0.26},{"series":"(M)-2","wl":443.5,"val":-0.22},{"series":"(M)-2","wl":445,"val":-0.2},{"series":"(M)-2","wl":447,"val":-0.22},{"series":"(M)-2","wl":448.5,"val":-0.21},{"series":"(M)-2","wl":450,"val":-0.23},{"series":"(M)-2","wl":451.5,"val":-0.18},{"series":"(M)-2","wl":452.6,"val":-0.14},{"series":"(M)-2","wl":454,"val":-0.2},{"series":"(M)-2","wl":455.5,"val":-0.23},{"series":"(M)-2","wl":457.7,"val":-0.14},{"series":"(M)-2","wl":459,"val":-0.2},{"series":"(M)-2","wl":460.5,"val":-0.23},{"series":"(M)-2","wl":462,"val":-0.17},{"series":"(M)-2","wl":463,"val":-0.13},{"series":"(M)-2","wl":464,"val":-0.2},{"series":"(M)-2","wl":465,"val":-0.24},{"series":"(M)-2","wl":466.5,"val":-0.2},{"series":"(M)-2","wl":468,"val":-0.14},{"series":"(M)-2","wl":469.5,"val":-0.1},{"series":"(M)-2","wl":470.5,"val":-0.055},{"series":"(M)-2","wl":472,"val":-0.02},{"series":"(M)-2","wl":473,"val":0.0},{"series":"(M)-2","wl":474.5,"val":-0.03},{"series":"(M)-2","wl":476,"val":-0.02},{"series":"(M)-2","wl":477.5,"val":0.01},{"series":"(M)-2","wl":479,"val":0.03},{"series":"(M)-2","wl":480.5,"val":0.02},{"series":"(M)-2","wl":482,"val":-0.01},{"series":"(M)-2","wl":484,"val":0.03},{"series":"(M)-2","wl":486,"val":0.06},{"series":"(M)-2","wl":488,"val":0.04},{"series":"(M)-2","wl":490,"val":0.03},{"series":"(M)-2","wl":492,"val":0.07},{"series":"(M)-2","wl":493.6,"val":0.1},{"series":"(M)-2","wl":495,"val":0.09},{"series":"(M)-2","wl":497,"val":0.14},{"series":"(M)-2","wl":499,"val":0.16},{"series":"(M)-2","wl":501,"val":0.19},{"series":"(M)-2","wl":502.5,"val":0.17},{"series":"(M)-2","wl":504,"val":0.13},{"series":"(M)-2","wl":506,"val":0.06},{"series":"(M)-2","wl":508,"val":0.07},{"series":"(M)-2","wl":510,"val":0.1},{"series":"(M)-2","wl":511.5,"val":0.16},{"series":"(M)-2","wl":514,"val":0.175},{"series":"(M)-2","wl":515.5,"val":0.12},{"series":"(M)-2","wl":517,"val":0.07},{"series":"(M)-2","wl":519,"val":0.017},{"series":"(M)-2","wl":521,"val":0.05},{"series":"(M)-2","wl":522.5,"val":0.09},{"series":"(M)-2","wl":524,"val":0.15},{"series":"(M)-2","wl":526,"val":0.13},{"series":"(M)-2","wl":527.5,"val":0.1},{"series":"(M)-2","wl":529.5,"val":0.06},{"series":"(M)-2","wl":531,"val":0.04},{"series":"(M)-2","wl":533,"val":0.03},{"series":"(M)-2","wl":535,"val":0.06},{"series":"(M)-2","wl":537,"val":0.075},{"series":"(M)-2","wl":539,"val":0.06},{"series":"(M)-2","wl":541,"val":0.05},{"series":"(M)-2","wl":543,"val":0.07},{"series":"(M)-2","wl":545,"val":0.09},{"series":"(M)-2","wl":547,"val":0.06},{"series":"(M)-2","wl":549,"val":0.04},{"series":"(M)-2","wl":551,"val":0.05},{"series":"(M)-2","wl":553,"val":0.046},{"series":"(M)-2","wl":555,"val":0.06},{"series":"(M)-2","wl":558,"val":0.03},{"series":"(M)-2","wl":561,"val":0.05},{"series":"(M)-2","wl":563,"val":0.06},{"series":"(M)-2","wl":566,"val":0.04},{"series":"(M)-2","wl":569,"val":0.03},{"series":"(M)-2","wl":571,"val":0.05},{"series":"(M)-2","wl":573.5,"val":0.066},{"series":"(M)-2","wl":576,"val":0.04},{"series":"(M)-2","wl":579,"val":0.03},{"series":"(M)-2","wl":581,"val":0.05},{"series":"(M)-2","wl":584,"val":0.06},{"series":"(M)-2","wl":587,"val":0.04},{"series":"(M)-2","wl":589,"val":0.03},{"series":"(M)-2","wl":592,"val":0.05},{"series":"(M)-2","wl":595,"val":0.04},{"series":"(M)-2","wl":599,"val":0.017},{"series":"(M)-2","wl":602,"val":0.04},{"series":"(M)-2","wl":605,"val":0.03},{"series":"(M)-2","wl":608,"val":0.015},{"series":"(M)-2","wl":611,"val":0.02},{"series":"(M)-2","wl":614,"val":0.005},{"series":"(M)-2","wl":617,"val":0.03},{"series":"(M)-2","wl":620,"val":0.025},{"series":"(M)-2","wl":623,"val":0.0},{"series":"(M)-2","wl":626,"val":0.02},{"series":"(M)-2","wl":629,"val":0.01},{"series":"(M)-2","wl":632,"val":0.03},{"series":"(M)-2","wl":635,"val":0.02},{"series":"(M)-2","wl":638,"val":0.015},{"series":"(M)-2","wl":641,"val":0.02},{"series":"(M)-2","wl":645,"val":0.005},{"series":"(M)-2","wl":648,"val":0.01},{"series":"(M)-2","wl":650,"val":0.017},{"series":"(M)-2","wl":653,"val":0.02},{"series":"(M)-2","wl":656,"val":0.0},{"series":"(M)-2","wl":658,"val":-0.015},{"series":"(M)-2","wl":660.7,"val":-0.026},{"series":"(M)-2","wl":663,"val":-0.01},{"series":"(M)-2","wl":666,"val":0.0},{"series":"(M)-2","wl":670,"val":0.01},{"series":"(M)-2","wl":674,"val":0.015},{"series":"(M)-2","wl":678,"val":-0.005},{"series":"(M)-2","wl":682,"val":0.0},{"series":"(M)-2","wl":686,"val":0.005},{"series":"(M)-2","wl":690,"val":-0.005},{"series":"(M)-2","wl":695,"val":0.0},{"series":"(M)-2","wl":700,"val":-0.01},{"series":"(M)-2","wl":705,"val":0.005},{"series":"(M)-2","wl":710,"val":0.0},{"series":"(M)-2","wl":715,"val":0.01},{"series":"(M)-2","wl":720,"val":-0.005},{"series":"(M)-2","wl":725,"val":0.0},{"series":"(M)-2","wl":730,"val":-0.01},{"series":"(M)-2","wl":735,"val":-0.005},{"series":"(M)-2","wl":740,"val":-0.015},{"series":"(M)-2","wl":745,"val":0.0},{"series":"(M)-2","wl":750,"val":0.0}
  ]
},
"vconcat": [
  {
    "width": 261, "height": 164,
    "title": {"text": "(a)", "orient": "left", "anchor": "end", "angle": 0, "align": "right", "baseline": "top", "offset": 0, "dy": -2},
    "data": {"name": "cd"},
    "mark": {"type": "line", "interpolate": "monotone", "clip": true},
    "encoding": {
      "x": {"field": "wl", "type": "quantitative", "scale": {"domain": [230, 500], "nice": false, "zero": false}, "axis": {"values": [230,250,270,290,310,330,350,370,390,410,430,450,470,490], "title": "Wavelength / nm"}},
      "y": {"field": "val", "type": "quantitative", "scale": {"domain": [-20, 20], "nice": false}, "axis": {"values": [-20,-15,-10,-5,0,5,10,15,20], "labelExpr": "'' + datum.value", "title": "Δε / M⁻¹ cm⁻¹"}},
      "color": {"field": "series", "type": "nominal", "scale": {"domain": ["(P)-2", "(M)-2", "(P)-2' (sim.)", "(M)-2' (sim.)"], "range": ["#ff0000", "#00b0f0", "#ff3030", "#20b8f0"]}, "legend": {"orient": "none", "legendX": 113, "legendY": 10, "columns": 2, "title": null, "symbolSize": 100, "rowPadding": 9, "columnPadding": 14}},
      "strokeDash": {"field": "series", "type": "nominal", "scale": {"domain": ["(P)-2", "(M)-2", "(P)-2' (sim.)", "(M)-2' (sim.)"], "range": [[1,0],[1,0],[1.5,1.5],[1.5,1.5]]}},
      "strokeWidth": {"field": "series", "type": "nominal", "scale": {"domain": ["(P)-2", "(M)-2", "(P)-2' (sim.)", "(M)-2' (sim.)"], "range": [2, 2, 1, 1]}}
    }
  },
  {
    "width": 260, "height": 163,
    "title": {"text": "(b)", "orient": "left", "anchor": "end", "angle": 0, "align": "right", "baseline": "top", "offset": -3, "dy": -4},
    "data": {"name": "cplb"},
    "mark": {"type": "line", "strokeWidth": 1.5, "clip": true},
    "encoding": {
      "x": {"field": "wl", "type": "quantitative", "scale": {"domain": [350, 750], "nice": false, "zero": false}, "axis": {"values": [350,400,450,500,550,600,650,700,750], "title": "Wavelength / nm"}},
      "y": {"field": "val", "type": "quantitative", "scale": {"domain": [-1, 0.8], "nice": false}, "axis": {"values": [-1,-0.8,-0.6,-0.4,-0.2,0,0.2,0.4,0.6,0.8], "labelExpr": "'' + datum.value", "title": "CPL intensity"}},
      "color": {"field": "series", "type": "nominal", "scale": {"domain": ["(P)-2", "(M)-2"], "range": ["#ff0000", "#00b0f0"]}, "legend": {"orient": "none", "legendX": 200, "legendY": 8, "title": null, "symbolSize": 144, "symbolStrokeWidth": 2, "rowPadding": 8}}
    }
  },
  {
    "width": 260, "height": 163,
    "title": {"text": "(c)", "orient": "left", "anchor": "end", "angle": 0, "align": "right", "baseline": "top", "offset": -6, "dy": 6},
    "data": {"name": "cplc"},
    "mark": {"type": "line", "strokeWidth": 1.5, "clip": true},
    "encoding": {
      "x": {"field": "wl", "type": "quantitative", "scale": {"domain": [350, 750], "nice": false, "zero": false}, "axis": {"values": [350,400,450,500,550,600,650,700,750], "title": "Wavelength / nm"}},
      "y": {"field": "val", "type": "quantitative", "scale": {"domain": [-0.8, 0.6], "nice": false}, "axis": {"values": [-0.8,-0.6,-0.4,-0.2,0,0.2,0.4,0.6], "labelExpr": "'' + datum.value", "title": "CPL intensity"}},
      "color": {"field": "series", "type": "nominal", "scale": {"domain": ["(P)-2", "(M)-2"], "range": ["#ff0000", "#00b0f0"]}, "legend": {"orient": "none", "legendX": 179, "legendY": 12, "title": null, "symbolSize": 169, "symbolStrokeWidth": 2, "rowPadding": 10}}
    }
  }
]
}
